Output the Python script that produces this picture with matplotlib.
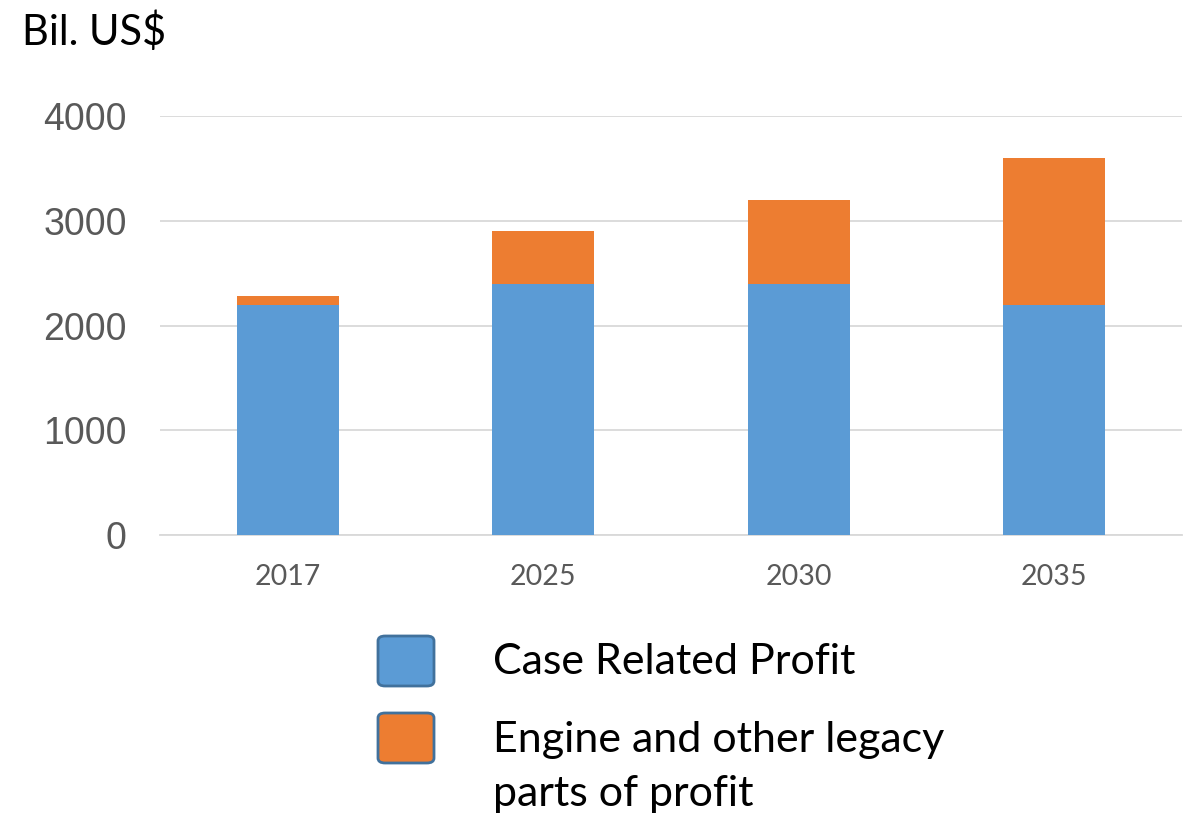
import numpy as np
import matplotlib.pyplot as plt
from matplotlib.patches import FancyBboxPatch

# data
years = ["2017", "2025", "2030", "2035"]
case_profit = [2200, 2400, 2400, 2200]
legacy_profit = [80, 500, 800, 1400]
series_names = ["Case Related Profit", "Engine and other legacy\nparts of profit"]
colors = ["#5B9BD5", "#ED7D31"]

fig = plt.figure(figsize=(11.89, 8.18), dpi=100)
ax = fig.add_axes([160 / 1189, 1 - 535 / 818, 1022 / 1189, 419 / 818])

x = np.arange(len(years))
ax.bar(x, case_profit, width=0.4, color=colors[0], zorder=3)
ax.bar(x, legacy_profit, width=0.4, bottom=case_profit, color=colors[1], zorder=3)

ax.set_xlim(-0.5, len(years) - 0.5)
ax.set_ylim(0, 4000)
ax.set_yticks([0, 1000, 2000, 3000, 4000])
ax.set_xticks(x)
ax.set_xticklabels(years, family="Lato", fontsize=20.5, color="#595959")
for lbl in ax.get_yticklabels():
    lbl.set_family("Liberation Sans")
    lbl.set_fontsize(27)
    lbl.set_color("#595959")
ax.tick_params(axis="y", length=0, pad=24)
ax.tick_params(axis="x", length=0, pad=21)
ax.grid(axis="y", color="#D9D9D9", linewidth=1.3, zorder=0)
for s in ["top", "right", "left"]:
    ax.spines[s].set_visible(False)
ax.spines["bottom"].set_color("#D9D9D9")
ax.spines["bottom"].set_linewidth(1.3)

fig.text(22 / 1189, 1 - 32 / 818, "Bil. US$", family="Lato", fontsize=30,
         va="center", ha="left", color="black")

# legend with rounded boxes
box_tops = [634, 711]
text_y = [662, 767]
for i in range(2):
    fig.patches.append(FancyBboxPatch(
        (378 / 1189, 1 - (box_tops[i] + 52) / 818), 56 / 1189, 50 / 818,
        boxstyle="round,pad=0,rounding_size=0.006", transform=fig.transFigure,
        facecolor=colors[i], edgecolor="#41719C", linewidth=2))
    fig.text(493 / 1189, 1 - text_y[i] / 818, series_names[i], family="Lato",
             fontsize=31, va="center", ha="left",
             linespacing=1.5, color="black")

fig.savefig("out.png", dpi=100)
